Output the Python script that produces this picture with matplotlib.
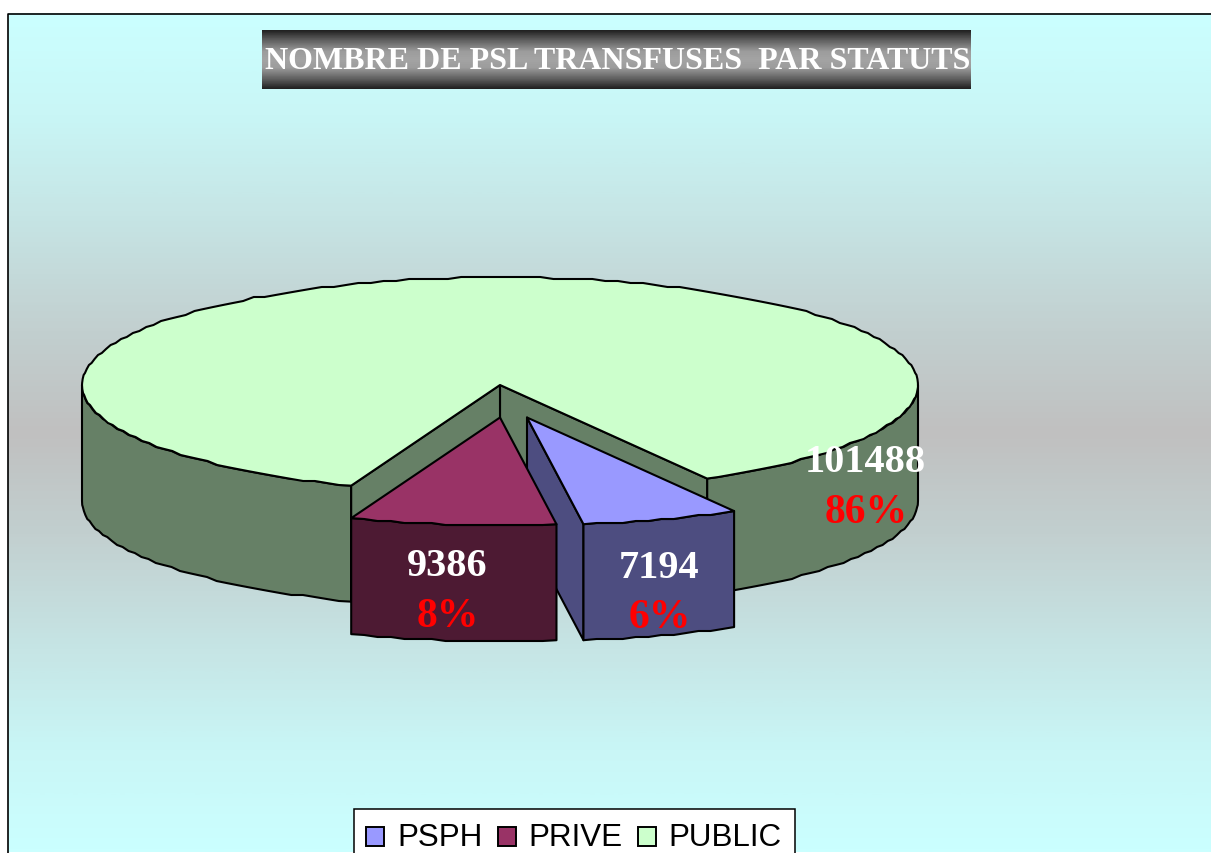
import numpy as np
import matplotlib
matplotlib.use("Agg")
import matplotlib.pyplot as plt
from matplotlib.colors import LinearSegmentedColormap
from matplotlib.legend_handler import HandlerPatch
from matplotlib.patches import Polygon, Patch, Rectangle

# ---- data -------------------------------------------------------------
categories = ["PSPH", "PRIVE", "PUBLIC"]
values = [7194, 9386, 101488]
title_text = "NOMBRE DE PSL TRANSFUSES  PAR STATUTS"

# ---- style ------------------------------------------------------------
top_colors = ["#9999FF", "#993366", "#CCFFCC"]
side_colors = ["#4D4D80", "#4D1A33", "#668066"]
label_xy = [(659, 578, 660, 628), (447, 576, 448, 627), (865, 472, 866, 523)]

W, H = 1211, 854
CX, CY, RX, RY, DEPTH = 500.0, 386.0, 418.0, 107.7, 116.0
START = 29.7   # degrees to the right of the pie's front point
OFFSETS = [(27.0, 32.5), (0.0, 32.5), (0.0, 0.0)]
LW = 1.5

plt.rcParams["font.family"] = ["Liberation Sans", "DejaVu Sans"]
fig = plt.figure(figsize=(W / 100, H / 100), dpi=100, facecolor="white")
ax = fig.add_axes([0, 0, 1, 1])
ax.set_axis_off()

# ---- backgrounds ------------------------------------------------------
bg_map = LinearSegmentedColormap.from_list(
    "bg", [(0.0, "#CBFFFF"), (0.12, "#C9F6F6"), (0.24, "#C6E5E5"), (0.38, "#C2CFCF"),
           (0.5, "#C0C0C0"),
           (0.62, "#C2CFCF"), (0.76, "#C6E5E5"), (0.88, "#C9F6F6"), (1.0, "#CBFFFF")])
ax.imshow(np.linspace(0, 1, 420)[:, None], extent=(8, W, 853, 14.5), cmap=bg_map,
          aspect="auto", zorder=0, vmin=0, vmax=1)
ax.plot([8.0, 8.0, W], [H, 14.5, 14.5], color="black", lw=1.2, zorder=1)

title_map = LinearSegmentedColormap.from_list(
    "tt", [(0.0, "#222222"), (0.15, "#5A5A5A"), (0.36, "#9C9C9C"), (0.5, "#A4A4A4"),
           (0.64, "#9C9C9C"), (0.85, "#5A5A5A"), (1.0, "#222222")])
ax.imshow(np.linspace(0, 1, 59)[:, None], extent=(262, 971, 89.5, 30.5), cmap=title_map,
          aspect="auto", zorder=2, vmin=0, vmax=1, interpolation="bilinear")
ax.text(618, 69, title_text, color="white", fontsize=23, fontweight="bold",
        family=["Liberation Serif"], ha="center", va="baseline", zorder=3)


# ---- 3-D pie geometry derived from the values -------------------------
def arc(a0, a1, dx=0.0, dy=0.0, step=1.8):
    """Points along the ellipse; angle measured from the front, + to the right."""
    n = max(2, int(abs(a1 - a0) / step) + 1)
    t = np.radians(np.linspace(a0, a1, n))
    x = CX + dx + RX * np.sin(t)
    y = CY + dy + RY * np.cos(t)
    # coarse device grid of the original gives its slightly wavy outline
    y[1:-1] = np.round(y[1:-1] / 2) * 2
    return np.column_stack([x, y])


def poly(pts, color, z):
    ax.add_patch(Polygon(pts, closed=True, facecolor=color, edgecolor="black",
                         lw=LW, joinstyle="round", zorder=z))


def down(pts):
    return pts + np.array([0, DEPTH])


fractions = np.array(values, dtype=float) / np.sum(values)
sweeps = fractions * 360.0
a_start = START
a_psph_end = a_start - sweeps[0]
a_prive_end = a_psph_end - sweeps[1]

# PUBLIC: outer walls, inner walls, top
for rng in [(90.0, a_start), (a_prive_end, -90.0)]:
    edge = arc(rng[0], rng[1])
    poly(np.vstack([edge, down(edge)[::-1]]), side_colors[2], 5)
apex = np.array([[CX, CY]])
for a in (a_start, a_prive_end):
    c = arc(a, a)[:1]
    poly(np.vstack([apex, c, down(c), down(apex)]), side_colors[2], 6)
back = arc(a_start, a_prive_end + 360.0)
poly(np.vstack([apex, back]), top_colors[2], 7)

# PSPH (exploded)
dx, dy = OFFSETS[0]
edge = arc(a_start, a_psph_end, dx, dy)
ap = np.array([[CX + dx, CY + dy]])
poly(np.vstack([ap, edge[-1:], down(edge[-1:]), down(ap)]), side_colors[0], 8)
poly(np.vstack([edge, down(edge)[::-1]]), side_colors[0], 9)
poly(np.vstack([ap, edge]), top_colors[0], 10)

# PRIVE (exploded)
dx, dy = OFFSETS[1]
edge = arc(a_psph_end, a_prive_end, dx, dy)
ap = np.array([[CX + dx, CY + dy]])
poly(np.vstack([edge, down(edge)[::-1]]), side_colors[1], 11)
poly(np.vstack([ap, edge]), top_colors[1], 12)

# ---- data labels ------------------------------------------------------
for v, f, (x1, y1, x2, y2) in zip(values, fractions, label_xy):
    ax.text(x1, y1, str(v), color="white", fontsize=29, fontweight="bold",
            family=["Liberation Serif"], ha="center", va="baseline", zorder=20)
    ax.text(x2, y2, f"{f * 100:.0f}%", color="#FF0000", fontsize=30, fontweight="bold",
            family=["Liberation Serif"], ha="center", va="baseline", zorder=20)

ax.set_xlim(0, W)
ax.set_ylim(H, 0)


# ---- legend -----------------------------------------------------------
def lowered_key(legend, orig_handle, xdescent, ydescent, width, height, fontsize):
    return Rectangle((-xdescent - fontsize * 0.03, -ydescent - fontsize * 0.1), width, height)


handles = [Patch(facecolor=c, edgecolor="black", lw=1.4, label=n)
           for c, n in zip(top_colors, categories)]
leg = ax.legend(handles=handles, ncol=3, loc="upper left", bbox_to_anchor=(354, 809.5),
                bbox_transform=ax.transData, borderaxespad=0, fontsize=22.6,
                frameon=True, fancybox=False, framealpha=1, edgecolor="black",
                facecolor="white", handlelength=0.57, handleheight=0.57,
                handletextpad=0.38, columnspacing=0.52, borderpad=0.42,
                handler_map={Patch: HandlerPatch(patch_func=lowered_key)})
leg.get_frame().set_linewidth(1.1)
leg.set_zorder(30)

fig.savefig("out.png", dpi=100, facecolor="white")
